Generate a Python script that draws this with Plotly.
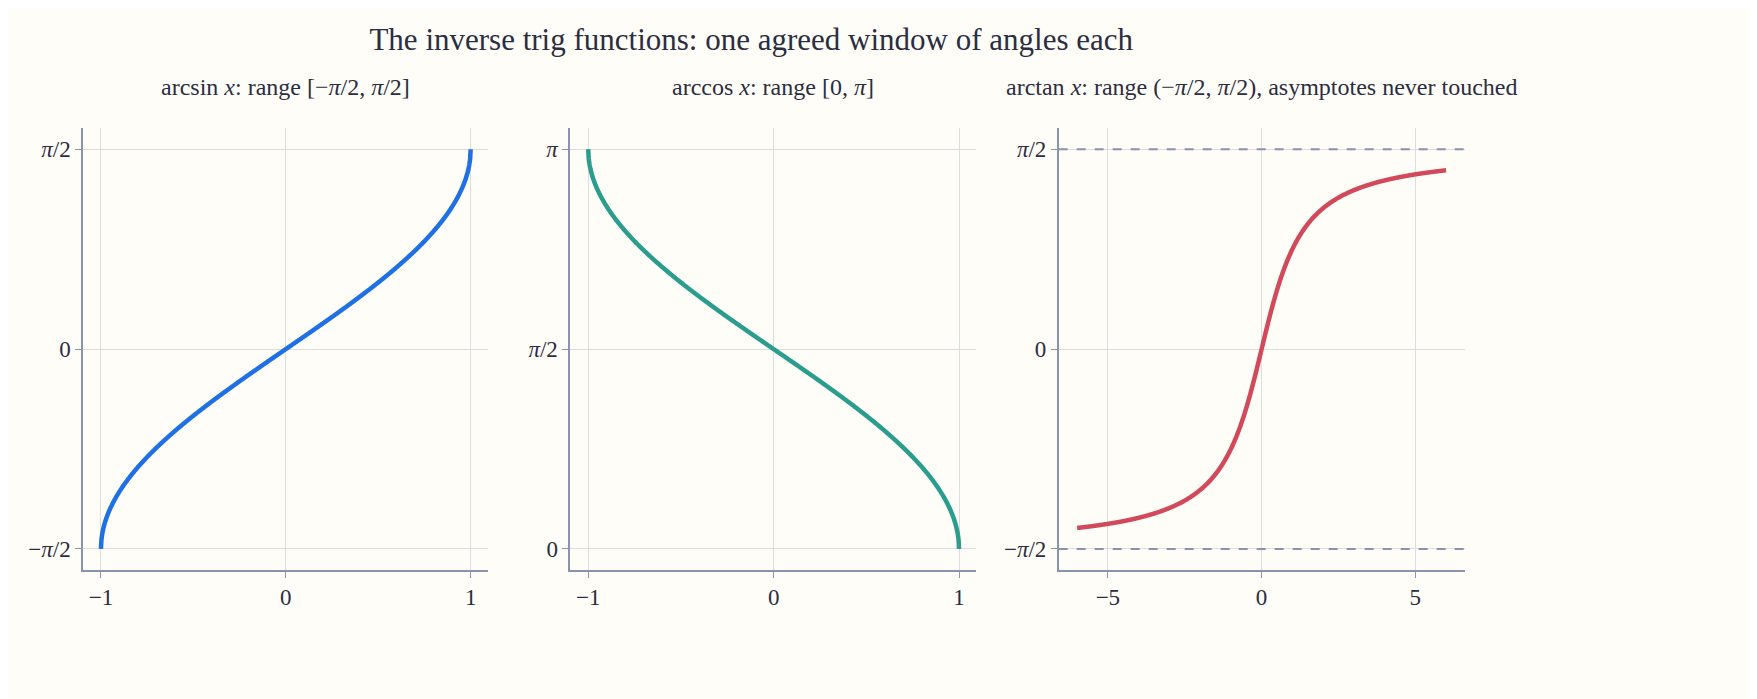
import numpy as np
import plotly.graph_objects as go

x_unit = np.linspace(-1, 1, 801)
x_tan = np.linspace(-6, 6, 801)
asin_y = np.arcsin(x_unit)
acos_y = np.arccos(x_unit)
atan_y = np.arctan(x_tan)

titles = ["arcsin <i>x</i>: range [−<i>π</i>/2, <i>π</i>/2]",
          "arccos <i>x</i>: range [0, <i>π</i>]",
          "arctan <i>x</i>: range (−<i>π</i>/2, <i>π</i>/2), asymptotes never touched"]
colors = ["#1f6fe5", "#2a9d8f", "#d1495b"]
ink = "#2b2d42"
spine = "#8a93ad"
bg = "#fffdf7"
font = "Liberation Serif"

fig = go.Figure()
for xs, ys, c, s in [(x_unit, asin_y, colors[0], ""), (x_unit, acos_y, colors[1], "2"), (x_tan, atan_y, colors[2], "3")]:
    fig.add_trace(go.Scatter(x=xs, y=ys, mode="lines", line=dict(color=c, width=4.5, simplify=False),
                             xaxis="x" + s, yaxis="y" + s))

h = np.pi / 2
doms = [(0.0427, 0.273), (0.320, 0.551), (0.598, 0.829)]
xr = [(-1.097, 1.092), (-1.097, 1.092), (-6.6, 6.6)]
yr = [(-1.736, 1.736), (-0.165, np.pi + 0.165), (-1.736, 1.736)]
xt = [[-1, 0, 1], [-1, 0, 1], [-5, 0, 5]]
xtt = [["−1", "0", "1"], ["−1", "0", "1"], ["−5", "0", "5"]]
yt = [[-h, 0, h], [0, h, np.pi], [-h, 0, h]]
ytt = [["−<i>π</i>/2", "0", "<i>π</i>/2"], ["0", "<i>π</i>/2", "<i>π</i>"], ["−<i>π</i>/2", "0", "<i>π</i>/2"]]

axcommon = dict(showline=True, linecolor=spine, linewidth=1.5, gridcolor="#dddddd", gridwidth=1,
                zeroline=False, ticks="outside", tickcolor=spine, ticklen=6,
                tickfont=dict(size=23, color=ink, family=font))
lay = {}
for i in range(3):
    s = "" if i == 0 else str(i + 1)
    lay["xaxis" + s] = dict(axcommon, domain=doms[i], range=xr[i], tickvals=xt[i], ticktext=xtt[i],
                            anchor="y" + s)
    lay["yaxis" + s] = dict(axcommon, domain=(0.196, 0.828), range=yr[i], tickvals=yt[i], ticktext=ytt[i],
                            anchor="x" + s)

shapes = [dict(type="line", xref="x3 domain", yref="y3", x0=0, x1=1, y0=v, y1=v,
               line=dict(color=spine, width=2, dash="dash")) for v in (-h, h)]
ann = [dict(text=titles[i], x=(doms[i][0] + doms[i][1]) / 2, y=0.865, xref="paper", yref="paper",
            xanchor="center", yanchor="bottom", showarrow=False,
            font=dict(size=24, color=ink, family=font)) for i in range(3)]

fig.update_layout(**lay, shapes=shapes, annotations=ann, showlegend=False,
                  width=1757, height=699, paper_bgcolor=bg, plot_bgcolor=bg,
                  margin=dict(l=0, r=0, t=0, b=0),
                  title=dict(text="The inverse trig functions: one agreed window of angles each",
                             x=0.423, xanchor="center", y=0.955, yanchor="middle",
                             font=dict(size=31, color=ink, family=font)))
fig.write_html("out.html")
